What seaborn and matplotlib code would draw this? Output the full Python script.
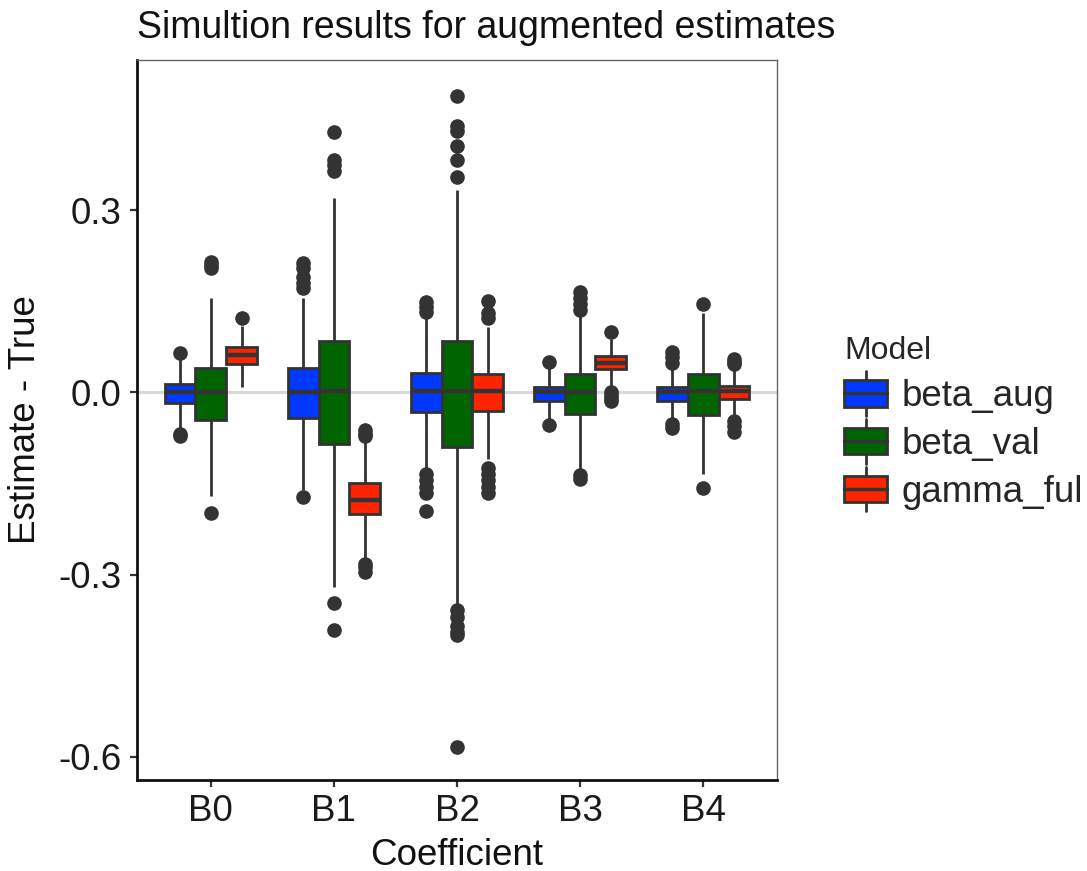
import numpy as np
import pandas as pd
import seaborn as sns
from matplotlib import pyplot as plt
from matplotlib.patches import Patch, Rectangle
from matplotlib.lines import Line2D
from matplotlib.legend_handler import HandlerBase

coefficients = ["B0", "B1", "B2", "B3", "B4"]
models = ["beta_aug", "beta_val", "gamma_ful"]
colors = ["#0038FF", "#006400", "#FF2400"]

# box summary per coefficient: (low whisker, q1, median, q3, high whisker)
beta_aug_box = [(-0.06, -0.017, 0.0, 0.014, 0.058),
                (-0.16, -0.042, 0.0, 0.040, 0.155),
                (-0.125, -0.033, 0.002, 0.032, 0.125),
                (-0.045, -0.014, 0.0, 0.009, 0.042),
                (-0.045, -0.014, 0.0, 0.009, 0.040)]
beta_aug_out = [[-0.072, -0.068, 0.065],
                [-0.172, 0.172, 0.18, 0.19, 0.205, 0.213],
                [-0.195, -0.165, -0.155, -0.145, -0.135, 0.132, 0.14, 0.148],
                [-0.054, 0.05],
                [-0.058, -0.052, 0.048, 0.058, 0.066]]

beta_val_box = [(-0.17, -0.045, 0.0, 0.040, 0.155),
                (-0.321, -0.085, 0.003, 0.084, 0.32),
                (-0.348, -0.09, 0.003, 0.085, 0.333),
                (-0.128, -0.035, 0.0, 0.030, 0.125),
                (-0.135, -0.037, 0.002, 0.031, 0.13)]
beta_val_out = [[-0.199, 0.205, 0.21, 0.215],
                [-0.391, -0.347, 0.365, 0.375, 0.383, 0.429],
                [-0.583, -0.40, -0.395, -0.385, -0.37, -0.358,
                 0.355, 0.383, 0.405, 0.43, 0.438, 0.488],
                [-0.142, -0.136, 0.135, 0.145, 0.155, 0.165],
                [-0.158, 0.146]]

gamma_ful_box = [(0.009, 0.047, 0.061, 0.075, 0.11),
                 (-0.272, -0.201, -0.177, -0.150, -0.08),
                 (-0.11, -0.03, 0.003, 0.03, 0.108),
                 (0.007, 0.038, 0.049, 0.060, 0.088),
                 (-0.04, -0.011, 0.003, 0.011, 0.038)]
gamma_ful_out = [[0.122],
                 [-0.295, -0.288, -0.282, -0.072, -0.068, -0.062],
                 [-0.165, -0.155, -0.145, -0.135, -0.125, 0.122, 0.13, 0.15],
                 [-0.015, -0.01, -0.005, 0.0, 0.10],
                 [-0.065, -0.055, -0.047, 0.046, 0.05, 0.055]]


def expand(box, outliers):
    # 101 values whose quartiles, median and whiskers match the summary
    lo, q1, med, q3, hi = box
    low = sorted([v for v in outliers if v < q1]) + [lo]
    high = [hi] + sorted([v for v in outliers if v > q3])
    vals = low + [q1] * (50 - len(low)) + [med] + [q3] * (50 - len(high)) + high
    return vals


rows = []
for model, boxes, outs in [("beta_aug", beta_aug_box, beta_aug_out),
                           ("beta_val", beta_val_box, beta_val_out),
                           ("gamma_ful", gamma_ful_box, gamma_ful_out)]:
    for coef, box, out in zip(coefficients, boxes, outs):
        for v in expand(box, out):
            rows.append((coef, model, v))
df = pd.DataFrame(rows, columns=["Coefficient", "Model", "value"])

EDGE = "#333333"


class BoxHandler(HandlerBase):
    def create_artists(self, legend, orig_handle, xdescent, ydescent,
                       width, height, fontsize, trans):
        x0, y0 = -xdescent, -ydescent
        whisk = Line2D([x0 + width / 2] * 2, [y0 - height * 0.35, y0 + height * 1.35],
                       color=EDGE, lw=2)
        rect = Rectangle((x0, y0), width, height, facecolor=orig_handle.get_facecolor(),
                         edgecolor=EDGE, lw=2)
        med = Line2D([x0, x0 + width], [y0 + height / 2] * 2, color=EDGE, lw=2.5)
        for a in (whisk, rect, med):
            a.set_transform(trans)
        return [whisk, rect, med]


sns.set_theme(style="white")
plt.rcParams["font.family"] = ["Liberation Sans", "DejaVu Sans"]

fig = plt.figure(figsize=(10.87, 8.71), dpi=100)
ax = fig.add_axes([137 / 1087, 1 - 780 / 871, 640 / 1087, 720 / 871])

ax.axhline(0, color="#d9d9d9", lw=2.2, zorder=0)
sns.boxplot(data=df, x="Coefficient", y="value", hue="Model", order=coefficients,
            hue_order=models, palette=colors, saturation=1, width=0.75, gap=0,
            linewidth=2, linecolor=EDGE, whis=1.5, showcaps=False, legend=False,
            flierprops=dict(marker="o", markersize=9.5, markerfacecolor=EDGE,
                            markeredgecolor=EDGE),
            medianprops=dict(linewidth=3.2, color=EDGE), ax=ax)

ax.set_xlim(-0.6, 4.6)
ax.set_ylim(-0.638, 0.547)
ax.set_yticks([-0.6, -0.3, 0.0, 0.3])
ax.set_yticklabels(["-0.6", "-0.3", "0.0", "0.3"])

for side in ["top", "right"]:
    ax.spines[side].set_color("#666666")
    ax.spines[side].set_linewidth(1.0)
for side in ["left", "bottom"]:
    ax.spines[side].set_color("#111111")
    ax.spines[side].set_linewidth(2.0)

ax.tick_params(axis="both", length=5, width=1.6, color=EDGE, labelsize=26.5,
               labelcolor="#1a1a1a", left=True, bottom=True)
ax.tick_params(axis="y", pad=6)
ax.tick_params(axis="x", pad=5)

ax.set_xlabel("Coefficient", fontsize=26.5, color="#111111")
ax.set_ylabel("Estimate - True", fontsize=26.5, color="#111111")
ax.xaxis.set_label_coords(0.5, -0.08)
ax.yaxis.set_label_coords(-0.147, 0.5)
ax.set_title("Simultion results for augmented estimates", loc="left",
             fontsize=27, pad=16, color="#111111")

handles = [Patch(facecolor=c) for c in colors]
fig.legend(handles, models, loc="upper left",
           bbox_to_anchor=(826 / 1087, 1 - 318 / 871), frameon=False,
           title="Model", title_fontsize=23, fontsize=26.5, alignment="left",
           handler_map={Patch: BoxHandler()}, handlelength=1.15,
           handleheight=0.72, handletextpad=0.4, labelspacing=0.35, borderpad=0)

fig.savefig("out.png", dpi=100)
